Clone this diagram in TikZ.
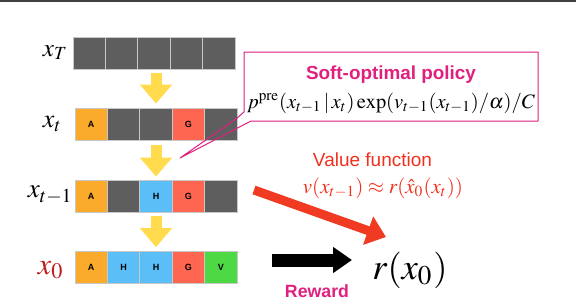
\documentclass[tikz,border=0pt]{standalone}
\usepackage{amsmath}
\usepackage{mathptmx}
\usepackage[no-math]{fontspec}
\setsansfont{Liberation Sans}
\usetikzlibrary{arrows.meta}
\definecolor{cgr}{HTML}{5E5E5E}
\definecolor{cor}{HTML}{FBAB2B}
\definecolor{cbl}{HTML}{5BBEF7}
\definecolor{crd}{HTML}{FF6651}
\definecolor{cgn}{HTML}{4CD944}
\definecolor{cyel}{HTML}{FFDB4D}
\definecolor{cmag}{HTML}{E0207F}
\definecolor{cvred}{HTML}{F2301E}
\definecolor{carr}{HTML}{F03A22}
\definecolor{cxred}{HTML}{BE1E1E}
\definecolor{cborder}{HTML}{C8C8C8}
\definecolor{ctop}{HTML}{404040}
\tikzset{
  cell/.style={minimum width=32.4pt, minimum height=32pt, inner sep=0pt, draw=cborder, line width=0.8pt,
    font=\sffamily\bfseries\fontsize{9}{9}\selectfont, text=black},
  yarrow/.style={draw=cyel, line width=11pt, -{Triangle[length=19pt,width=31pt]}},
  callout/.style={draw=cmag, line width=1pt, line join=round},
}
\begin{document}
\begin{tikzpicture}[x=1pt,y=-1pt]
\useasboundingbox (0,0) rectangle (576,300);
\fill[white] (0,0) rectangle (576,300);
\draw[line width=2pt, ctop] (0,1) -- (576,1);

% rows
\foreach \c/\l [count=\i from 0] in {cgr/{},cgr/{},cgr/{},cgr/{},cgr/{}}
  \node[cell, fill=\c] (a\i) at ({73+16.2+\i*32.4},53) {\l};
\foreach \c/\l [count=\i from 0] in {cor/A,cgr/{},cgr/{},crd/G,cgr/{}}
  \node[cell, fill=\c] (b\i) at ({75+16.2+\i*32.4},124) {\l};
\foreach \c/\l [count=\i from 0] in {cor/A,cgr/{},cbl/H,crd/G,cgr/{}}
  \node[cell, fill=\c] (c\i) at ({75+16.2+\i*32.4},196) {\l};
\foreach \c/\l [count=\i from 0] in {cor/A,cbl/H,cbl/H,crd/G,cgn/V}
  \node[cell, fill=\c] (d\i) at ({75+16.2+\i*32.4},267.5) {\l};

% labels
\node[inner sep=0pt] (lT) at (55.5,52.5) {\resizebox{25pt}{!}{$x_T$}};
\node[inner sep=0pt] (lt) at (52.5,124) {\resizebox{19pt}{!}{$x_t$}};
\node[inner sep=0pt] (ltm) at (50.5,195) {\resizebox{45pt}{!}{$x_{t-1}$}};
\node[inner sep=0pt, text=cxred] (l0) at (51,270) {\resizebox{26pt}{!}{$x_0$}};

% yellow arrows
\draw[yarrow] ([yshift=-4pt]a2.south -| b2) -- ([yshift=4pt]b2.north);
\draw[yarrow] ([yshift=-5pt]b2.south) -- ([yshift=3pt]c2.north);
\draw[yarrow] ([yshift=-4pt]c2.south) -- ([yshift=4pt]d2.north);

% callout
\coordinate (ctip) at (180,158);
\draw[callout] (244,52) -- (538,52) -- (538,121) -- (251,121) -- (ctip) -- (236,119) -- (244,112) -- cycle;
\node[inner sep=0pt, text=cmag, font=\sffamily\bfseries] (sop) at (391,75) {\resizebox{170pt}{!}{Soft-optimal policy}};
\node[inner sep=0pt] (pol) at (391,103) {\resizebox{288pt}{!}{$p^{\mathrm{pre}}(x_{t-1}\,|\,x_t)\exp(v_{t-1}(x_{t-1})/\alpha)/C$}};

% value function
\node[inner sep=0pt, text=cvred, font=\sffamily] (vf) at (372.5,160) {\resizebox{119pt}{!}{Value function}};
\node[inner sep=0pt, text=cvred] (vform) at (383,188) {\resizebox{160pt}{!}{$v(x_{t-1})\approx r(\hat{x}_0(x_t))$}};

% reward
\node[inner sep=0pt] (rx) at (410,270) {\resizebox{75pt}{!}{$r(x_0)$}};
\node[inner sep=0pt, text=cmag, font=\sffamily\bfseries] (rw) at (317,291) {\resizebox{64pt}{!}{Reward}};

\coordinate (vtail) at (254,190);
\coordinate (vtip) at (386,237);
\draw[carr, line width=9pt, -{Triangle[length=19pt,width=29pt]}] (vtail) -- (vtip);

\coordinate (btail) at (272,260);
\coordinate (btip) at (352,260);
\draw[black, line width=13pt, -{Triangle[length=19pt,width=25pt]}] (btail) -- (btip);
\end{tikzpicture}
\end{document}
